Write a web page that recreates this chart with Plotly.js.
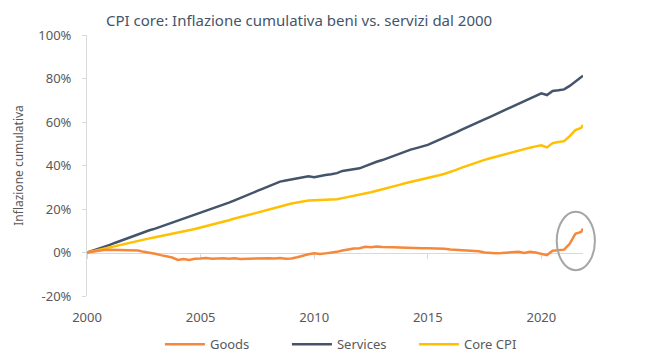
<!DOCTYPE html>
<html>
<head>
<meta charset="utf-8">
<script src="https://cdn.plot.ly/plotly-3.0.1.min.js"></script>
<style>html,body{margin:0;padding:0;background:#fff;}#chart{width:648px;height:353px;}</style>
</head>
<body>
<div id="chart"></div>
<script>
// Quarterly observation years (Jan, Apr, Jul, Oct) plus the last monthly print
const years = [2000,2001,2002,2003,2004,2005,2006,2007,2008,2009,2010,2011,2012,2013,2014,2015,2016,2017,2018,2019,2020,2021];
const quarterMonths = ['01','04','07','10'];
const lastDate = '2021-11-01';

// Cumulative inflation since 2000 (%), quarterly readings
const goods = [
  0, 0.5, 0.9, 1.2,
  1.3, 1.2, 1.0, 1.2,
  0.8, 0.9, 0.3, 0.0,
  -0.6, -1.2, -1.8, -2.3,
  -3.4, -3.0, -3.4, -2.9,
  -2.8, -2.5, -2.9, -2.7,
  -2.6, -2.9, -2.7, -3.0,
  -2.9, -3.0, -2.8, -2.9,
  -2.6, -2.8, -2.5, -2.9,
  -2.8, -2.2, -1.4, -0.8,
  -0.3, -0.7, -0.4, -0.2,
  0.3, 0.9, 1.4, 1.8,
  2.0, 2.6, 2.4, 2.7,
  2.5, 2.3, 2.4, 2.3,
  2.3, 2.2, 2.2, 2.0,
  1.9, 1.8, 2.0, 1.7,
  1.4, 1.3, 1.2, 1.0,
  0.8, 0.6, 0.0, -0.2,
  -0.3, -0.2, 0.0, 0.2,
  0.3, -0.2, 0.3, 0.0,
  -0.5, -1.2, 0.8, 1.0,
  1.3, 4.0, 8.6, 9.4,
  11.0
];
const services = [
  0, 0.8, 1.7, 2.6,
  3.5, 4.5, 5.5, 6.5,
  7.5, 8.4, 9.3, 10.2,
  11.0, 11.9, 12.7, 13.6,
  14.5, 15.4, 16.4, 17.4,
  18.5, 19.2, 20.1, 21.1,
  22.0, 22.9, 24.0, 25.0,
  26.0, 27.2, 28.3, 29.4,
  30.5, 31.6, 32.6, 33.1,
  33.5, 33.9, 34.4, 35.0,
  34.6, 35.2, 35.6, 36.0,
  36.5, 37.5, 38.0, 38.4,
  38.7, 39.7, 40.8, 41.7,
  42.5, 43.5, 44.5, 45.5,
  46.5, 47.3, 48.0, 48.7,
  49.5, 50.6, 51.7, 52.8,
  54.0, 55.2, 56.5, 57.6,
  58.8, 60.0, 61.2, 62.4,
  63.6, 64.8, 66.0, 67.3,
  68.5, 69.6, 70.8, 72.0,
  73.2, 72.4, 74.3, 74.6,
  75.0, 76.6, 78.5, 80.3,
  81.3
];
const coreCPI = [
  0, 0.6, 1.2, 1.9,
  2.5, 3.1, 3.8, 4.4,
  5.0, 5.5, 6.0, 6.5,
  7.0, 7.5, 8.0, 8.5,
  9.0, 9.6, 10.2, 10.8,
  11.5, 12.1, 12.7, 13.4,
  14.0, 14.8, 15.6, 16.3,
  17.0, 17.8, 18.6, 19.3,
  20.0, 20.7, 21.4, 22.0,
  22.5, 23.0, 23.5, 23.9,
  24.0, 24.1, 24.2, 24.3,
  24.5, 25.0, 25.5, 26.0,
  26.5, 27.1, 27.7, 28.4,
  29.0, 29.7, 30.4, 31.1,
  31.8, 32.4, 32.9, 33.5,
  34.0, 34.7, 35.5, 36.2,
  37.0, 38.0, 39.0, 40.0,
  41.0, 41.8, 42.6, 43.3,
  44.0, 44.8, 45.6, 46.4,
  47.0, 47.6, 48.2, 48.8,
  49.3, 48.3, 50.3, 50.8,
  51.2, 53.5, 56.3, 57.3,
  58.6
];
const seriesNames = ['Goods', 'Services', 'Core CPI'];
const yTickVals = [-20, 0, 20, 40, 60, 80, 100];
const yTickText = ['-20%', '0%', '20%', '40%', '60%', '80%', '100%'];
const xTickYears = ['2000', '2005', '2010', '2015', '2020'];

const dates = [];
years.forEach(y => quarterMonths.forEach(m => dates.push(y + '-' + m + '-01')));
dates.push(lastDate);
const xTickVals = xTickYears.map(y => y + '-01-01');

const textCol = '#595959';
const axisCol = '#D9D9D9';
const font = 'Noto Sans, Open Sans, sans-serif';

const traces = [
  {x: dates, y: goods, name: seriesNames[0], type: 'scatter', mode: 'lines',
   line: {color: '#F5883A', width: 2.5}, xaxis: 'x2', yaxis: 'y'},
  {x: dates, y: services, name: seriesNames[1], type: 'scatter', mode: 'lines',
   line: {color: '#44546A', width: 2.5}},
  {x: dates, y: coreCPI, name: seriesNames[2], type: 'scatter', mode: 'lines',
   line: {color: '#FFC000', width: 2.5}}
];

const layout = {
  width: 648, height: 353,
  margin: {l: 87, r: 65, t: 35, b: 57, autoexpand: false},
  paper_bgcolor: '#ffffff', plot_bgcolor: '#ffffff',
  font: {family: font, size: 13, color: textCol},
  showlegend: true,
  title: {text: 'CPI core: Inflazione cumulativa beni vs. servizi dal 2000',
    font: {family: font, size: 15, color: '#44546A'},
    x: 106 / 648, xanchor: 'left', xref: 'container',
    y: 1 - 21 / 353, yanchor: 'middle', yref: 'container'},
  xaxis: {type: 'date', range: ['2000-01-01', lastDate],
    tickvals: xTickVals, ticktext: xTickYears,
    showgrid: false, zeroline: false, showline: false, ticks: '',
    ticklabelstandoff: 12,
    tickfont: {size: 13, color: textCol}},
  xaxis2: {type: 'date', matches: 'x', overlaying: 'x', anchor: 'free', position: 20 / 120,
    tickvals: xTickVals, showticklabels: false,
    showgrid: false, zeroline: false, showline: true, linecolor: axisCol, linewidth: 1,
    ticks: 'outside', ticklen: 5, tickcolor: axisCol, layer: 'below traces'},
  yaxis: {range: [-20, 100], tickvals: yTickVals, ticktext: yTickText,
    showgrid: false, zeroline: false, showline: true, linecolor: axisCol, linewidth: 1,
    ticks: 'outside', ticklen: 4, tickcolor: axisCol, layer: 'below traces',
    ticklabelstandoff: 8,
    tickfont: {size: 13, color: textCol}},
  legend: {orientation: 'h', x: 0.147, xanchor: 'left', y: -0.185, yanchor: 'middle',
    font: {size: 13, color: textCol}, itemwidth: 40, entrywidth: 72, traceorder: 'normal'},
  shapes: [{type: 'circle', xref: 'paper', yref: 'paper',
    x0: 0.947, x1: 1.024, y0: 0.099, y1: 0.3225,
    line: {color: '#A6A6A6', width: 2}, layer: 'above'}]
};
layout.yaxis.title = {text: 'Inflazione cumulativa', font: {size: 12, color: textCol}, standoff: 12};

Plotly.newPlot('chart', traces, layout, {displayModeBar: false, staticPlot: true});
</script>
</body>
</html>
